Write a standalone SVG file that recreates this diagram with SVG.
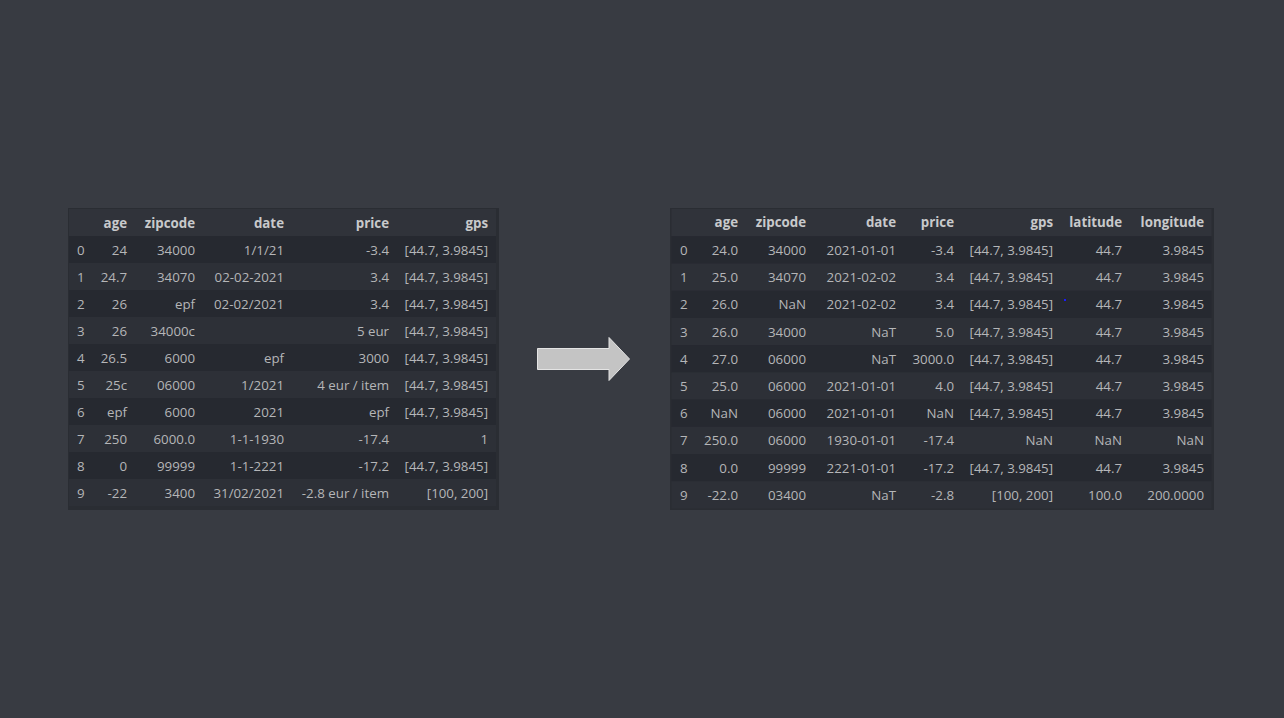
<svg xmlns="http://www.w3.org/2000/svg" width="1284" height="718" viewBox="0 0 1284 718">
<style>
.frame{fill:#2a2d33}
.hd{fill:#30333a}
.d{fill:#262930}
.l{fill:#2d3037}
text{font-family:"Open Sans","Liberation Sans",sans-serif;font-size:13.3px;fill:#b5b6b8}
.h{font-weight:bold;fill:#c8c9cb;text-anchor:end}
.e{text-anchor:end}
.arrow{fill:#c4c4c4;stroke:#e4e4e4;stroke-width:1}
</style>
<rect x="0" y="0" width="1284" height="718" fill="#383b42"/>
<g id="table-before">
<rect class="frame" x="68" y="208" width="431" height="302"/>
<rect class="hd" x="69" y="209" width="427" height="27"/>
<rect class="d" x="69" y="236" width="427" height="27"/>
<rect class="l" x="69" y="263" width="427" height="27"/>
<rect class="d" x="69" y="290" width="427" height="27"/>
<rect class="l" x="69" y="317" width="427" height="27"/>
<rect class="d" x="69" y="344" width="427" height="27"/>
<rect class="l" x="69" y="371" width="427" height="27"/>
<rect class="d" x="69" y="398" width="427" height="27"/>
<rect class="l" x="69" y="425" width="427" height="27"/>
<rect class="d" x="69" y="452" width="427" height="27"/>
<rect class="l" x="69" y="479" width="427" height="27"/>
<g>
<text class="h" x="127" y="228">age</text><text class="h" x="195" y="228">zipcode</text><text class="h" x="284" y="228">date</text><text class="h" x="389" y="228">price</text><text class="h" x="488" y="228">gps</text>
</g>
<g>
<text x="77" y="254.5">0</text><text class="e" x="127" y="254.5">24</text><text class="e" x="195" y="254.5">34000</text><text class="e" x="284" y="254.5">1/1/21</text><text class="e" x="389" y="254.5">-3.4</text><text class="e" x="488" y="254.5">[44.7, 3.9845]</text>
</g>
<g>
<text x="77" y="281.5">1</text><text class="e" x="127" y="281.5">24.7</text><text class="e" x="195" y="281.5">34070</text><text class="e" x="284" y="281.5">02-02-2021</text><text class="e" x="389" y="281.5">3.4</text><text class="e" x="488" y="281.5">[44.7, 3.9845]</text>
</g>
<g>
<text x="77" y="308.5">2</text><text class="e" x="127" y="308.5">26</text><text class="e" x="195" y="308.5">epf</text><text class="e" x="284" y="308.5">02-02/2021</text><text class="e" x="389" y="308.5">3.4</text><text class="e" x="488" y="308.5">[44.7, 3.9845]</text>
</g>
<g>
<text x="77" y="335.5">3</text><text class="e" x="127" y="335.5">26</text><text class="e" x="195" y="335.5">34000c</text><text class="e" x="389" y="335.5">5 eur</text><text class="e" x="488" y="335.5">[44.7, 3.9845]</text>
</g>
<g>
<text x="77" y="362.5">4</text><text class="e" x="127" y="362.5">26.5</text><text class="e" x="195" y="362.5">6000</text><text class="e" x="284" y="362.5">epf</text><text class="e" x="389" y="362.5">3000</text><text class="e" x="488" y="362.5">[44.7, 3.9845]</text>
</g>
<g>
<text x="77" y="389.5">5</text><text class="e" x="127" y="389.5">25c</text><text class="e" x="195" y="389.5">06000</text><text class="e" x="284" y="389.5">1/2021</text><text class="e" x="389" y="389.5">4 eur / item</text><text class="e" x="488" y="389.5">[44.7, 3.9845]</text>
</g>
<g>
<text x="77" y="416.5">6</text><text class="e" x="127" y="416.5">epf</text><text class="e" x="195" y="416.5">6000</text><text class="e" x="284" y="416.5">2021</text><text class="e" x="389" y="416.5">epf</text><text class="e" x="488" y="416.5">[44.7, 3.9845]</text>
</g>
<g>
<text x="77" y="443.5">7</text><text class="e" x="127" y="443.5">250</text><text class="e" x="195" y="443.5">6000.0</text><text class="e" x="284" y="443.5">1-1-1930</text><text class="e" x="389" y="443.5">-17.4</text><text class="e" x="488" y="443.5">1</text>
</g>
<g>
<text x="77" y="470.5">8</text><text class="e" x="127" y="470.5">0</text><text class="e" x="195" y="470.5">99999</text><text class="e" x="284" y="470.5">1-1-2221</text><text class="e" x="389" y="470.5">-17.2</text><text class="e" x="488" y="470.5">[44.7, 3.9845]</text>
</g>
<g>
<text x="77" y="497.5">9</text><text class="e" x="127" y="497.5">-22</text><text class="e" x="195" y="497.5">3400</text><text class="e" x="284" y="497.5">31/02/2021</text><text class="e" x="389" y="497.5">-2.8 eur / item</text><text class="e" x="488" y="497.5">[100, 200]</text>
</g>
</g>
<g id="connectors">
<polygon class="arrow" points="537.5,348.5 609,348.5 609,337.5 629.5,359 609,380.5 609,369.5 537.5,369.5"/>
</g>
<g id="table-after">
<rect class="frame" x="670" y="208" width="544" height="302"/>
<rect class="hd" x="671.5" y="209" width="540" height="27"/>
<rect class="d" x="671.5" y="236.4" width="540" height="27.2"/>
<rect class="l" x="671.5" y="263.6" width="540" height="27.2"/>
<rect class="d" x="671.5" y="290.8" width="540" height="27.2"/>
<rect class="l" x="671.5" y="318" width="540" height="27.2"/>
<rect class="d" x="671.5" y="345.2" width="540" height="27.2"/>
<rect class="l" x="671.5" y="372.4" width="540" height="27.2"/>
<rect class="d" x="671.5" y="399.6" width="540" height="27.2"/>
<rect class="l" x="671.5" y="426.8" width="540" height="27.2"/>
<rect class="d" x="671.5" y="454" width="540" height="27.2"/>
<rect class="l" x="671.5" y="481.2" width="540" height="27.2"/>
<rect x="1064" y="299" width="2" height="2" fill="#1a1aff"/>
<g>
<text class="h" x="738" y="227">age</text><text class="h" x="806" y="227">zipcode</text><text class="h" x="896" y="227">date</text><text class="h" x="954" y="227">price</text><text class="h" x="1053" y="227">gps</text><text class="h" x="1122" y="227">latitude</text><text class="h" x="1204" y="227">longitude</text>
</g>
<g>
<text x="680" y="255">0</text><text class="e" x="738" y="255">24.0</text><text class="e" x="806" y="255">34000</text><text class="e" x="896" y="255">2021-01-01</text><text class="e" x="954" y="255">-3.4</text><text class="e" x="1053" y="255">[44.7, 3.9845]</text><text class="e" x="1122" y="255">44.7</text><text class="e" x="1204" y="255">3.9845</text>
</g>
<g>
<text x="680" y="282.2">1</text><text class="e" x="738" y="282.2">25.0</text><text class="e" x="806" y="282.2">34070</text><text class="e" x="896" y="282.2">2021-02-02</text><text class="e" x="954" y="282.2">3.4</text><text class="e" x="1053" y="282.2">[44.7, 3.9845]</text><text class="e" x="1122" y="282.2">44.7</text><text class="e" x="1204" y="282.2">3.9845</text>
</g>
<g>
<text x="680" y="309.4">2</text><text class="e" x="738" y="309.4">26.0</text><text class="e" x="806" y="309.4">NaN</text><text class="e" x="896" y="309.4">2021-02-02</text><text class="e" x="954" y="309.4">3.4</text><text class="e" x="1053" y="309.4">[44.7, 3.9845]</text><text class="e" x="1122" y="309.4">44.7</text><text class="e" x="1204" y="309.4">3.9845</text>
</g>
<g>
<text x="680" y="336.6">3</text><text class="e" x="738" y="336.6">26.0</text><text class="e" x="806" y="336.6">34000</text><text class="e" x="896" y="336.6">NaT</text><text class="e" x="954" y="336.6">5.0</text><text class="e" x="1053" y="336.6">[44.7, 3.9845]</text><text class="e" x="1122" y="336.6">44.7</text><text class="e" x="1204" y="336.6">3.9845</text>
</g>
<g>
<text x="680" y="363.8">4</text><text class="e" x="738" y="363.8">27.0</text><text class="e" x="806" y="363.8">06000</text><text class="e" x="896" y="363.8">NaT</text><text class="e" x="954" y="363.8">3000.0</text><text class="e" x="1053" y="363.8">[44.7, 3.9845]</text><text class="e" x="1122" y="363.8">44.7</text><text class="e" x="1204" y="363.8">3.9845</text>
</g>
<g>
<text x="680" y="391">5</text><text class="e" x="738" y="391">25.0</text><text class="e" x="806" y="391">06000</text><text class="e" x="896" y="391">2021-01-01</text><text class="e" x="954" y="391">4.0</text><text class="e" x="1053" y="391">[44.7, 3.9845]</text><text class="e" x="1122" y="391">44.7</text><text class="e" x="1204" y="391">3.9845</text>
</g>
<g>
<text x="680" y="418.2">6</text><text class="e" x="738" y="418.2">NaN</text><text class="e" x="806" y="418.2">06000</text><text class="e" x="896" y="418.2">2021-01-01</text><text class="e" x="954" y="418.2">NaN</text><text class="e" x="1053" y="418.2">[44.7, 3.9845]</text><text class="e" x="1122" y="418.2">44.7</text><text class="e" x="1204" y="418.2">3.9845</text>
</g>
<g>
<text x="680" y="445.4">7</text><text class="e" x="738" y="445.4">250.0</text><text class="e" x="806" y="445.4">06000</text><text class="e" x="896" y="445.4">1930-01-01</text><text class="e" x="954" y="445.4">-17.4</text><text class="e" x="1053" y="445.4">NaN</text><text class="e" x="1122" y="445.4">NaN</text><text class="e" x="1204" y="445.4">NaN</text>
</g>
<g>
<text x="680" y="472.6">8</text><text class="e" x="738" y="472.6">0.0</text><text class="e" x="806" y="472.6">99999</text><text class="e" x="896" y="472.6">2221-01-01</text><text class="e" x="954" y="472.6">-17.2</text><text class="e" x="1053" y="472.6">[44.7, 3.9845]</text><text class="e" x="1122" y="472.6">44.7</text><text class="e" x="1204" y="472.6">3.9845</text>
</g>
<g>
<text x="680" y="499.8">9</text><text class="e" x="738" y="499.8">-22.0</text><text class="e" x="806" y="499.8">03400</text><text class="e" x="896" y="499.8">NaT</text><text class="e" x="954" y="499.8">-2.8</text><text class="e" x="1053" y="499.8">[100, 200]</text><text class="e" x="1122" y="499.8">100.0</text><text class="e" x="1204" y="499.8">200.0000</text>
</g>
</g>
</svg>
